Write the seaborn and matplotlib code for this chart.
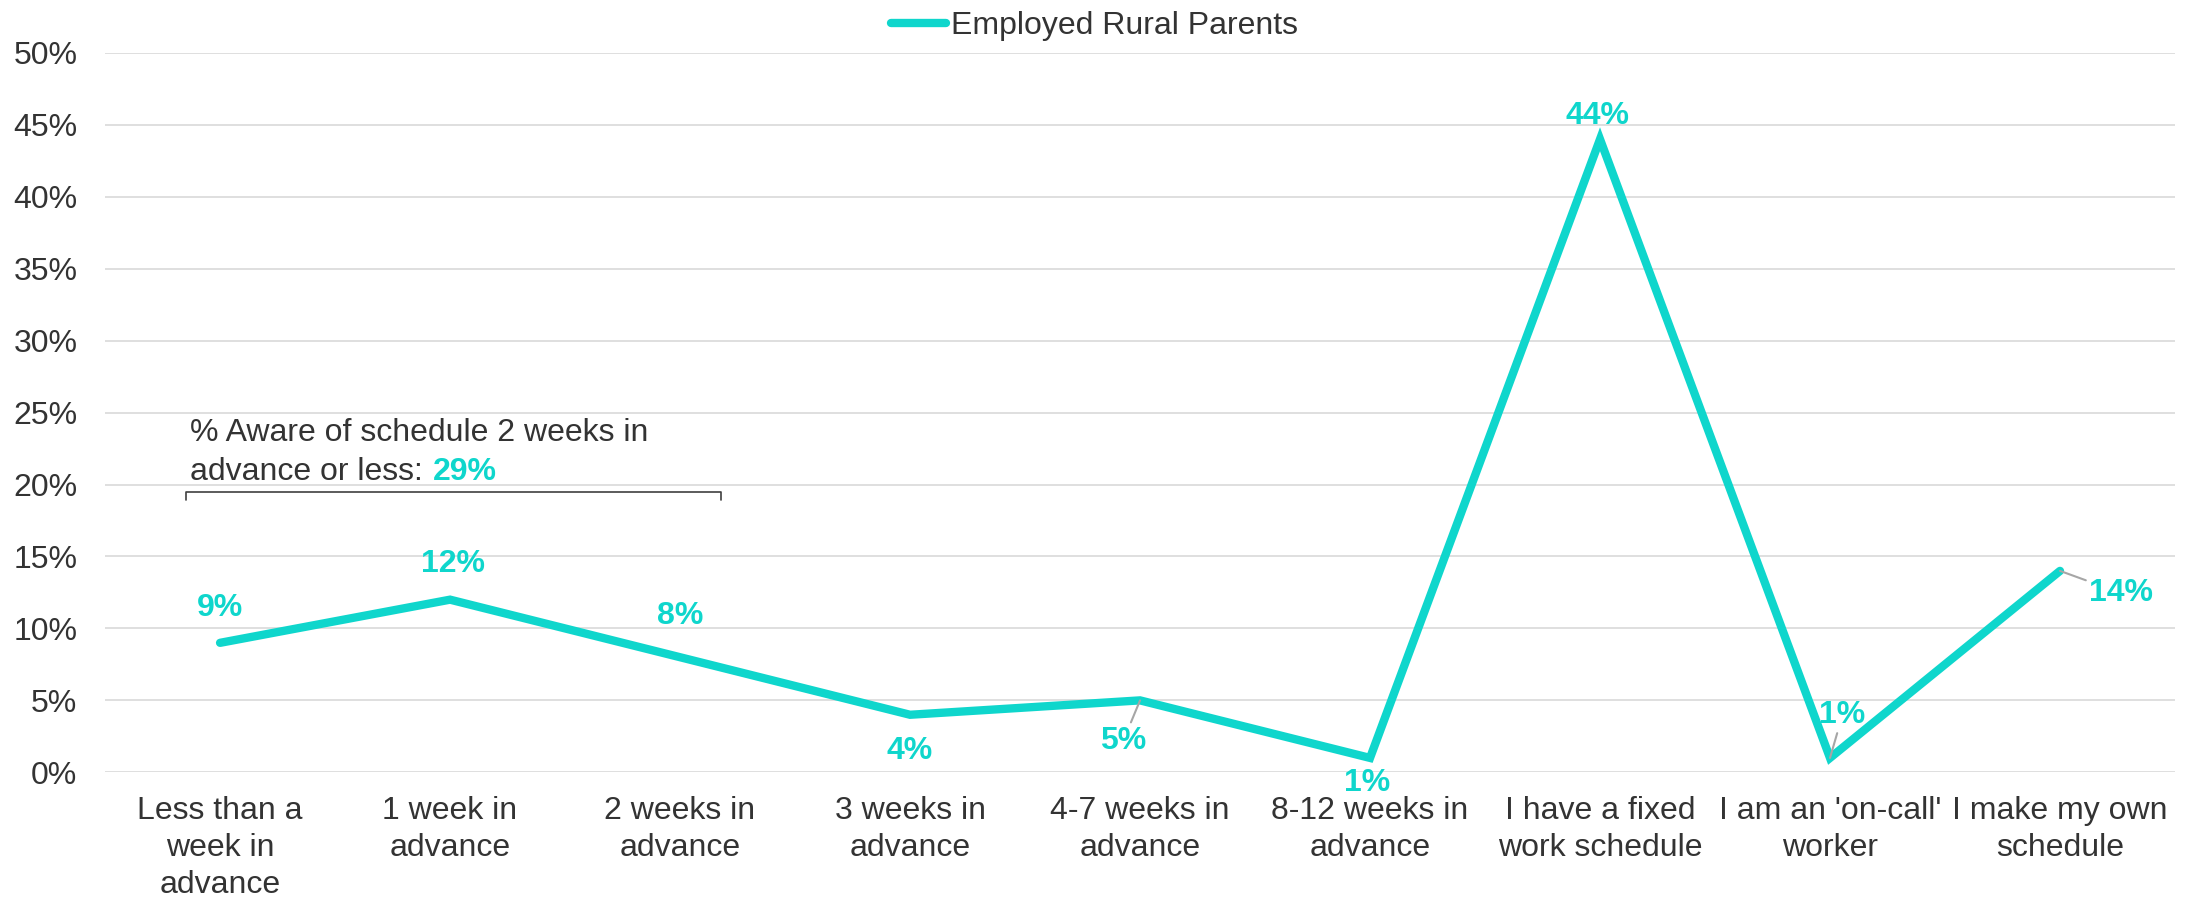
import matplotlib
matplotlib.use("Agg")
import matplotlib.pyplot as plt
from matplotlib.ticker import PercentFormatter
import seaborn as sns
import pandas as pd

categories = ["Less than a\nweek in\nadvance", "1 week in\nadvance", "2 weeks in\nadvance",
              "3 weeks in\nadvance", "4-7 weeks in\nadvance", "8-12 weeks in\nadvance",
              "I have a fixed\nwork schedule", "I am an 'on-call'\nworker", "I make my own\nschedule"]
employed_rural = [9, 12, 8, 4, 5, 1, 44, 1, 14]
series_name = "Employed Rural Parents"
bracket_total = 29

# label offsets in points (dx, dy), and whether a leader line is drawn
label_offsets = [(0, 25), (2, 26), (0, 30), (0, -26), (-12, -29), (-2, -18), (-2, 17), (9, 31), (44, -16)]
leaders = [False, False, False, False, True, False, False, True, True]

teal = "#0fd6cc"
dark = "#333333"

sns.set_theme(style="white")
plt.rcParams['font.family'] = ['Liberation Sans', 'DejaVu Sans']

df = pd.DataFrame({"category": categories, "pct": employed_rural})

fig = plt.figure(figsize=(21.89, 8.97), dpi=100)
ax = fig.add_axes([0.048, 0.139, 0.9456, 0.802])

sns.lineplot(data=df, x="category", y="pct", sort=False, color=teal, linewidth=6,
             ax=ax, label=series_name, solid_joinstyle="miter", solid_capstyle="round")

ax.set_ylim(0, 50)
ax.set_xlim(-0.5, len(categories) - 0.5)
ax.set_yticks(range(0, 51, 5))
ax.yaxis.set_major_formatter(PercentFormatter(decimals=0))
ax.yaxis.grid(True, color="#d9d9d9", linewidth=1.2)
ax.set_axisbelow(True)
for s in ax.spines.values():
    s.set_visible(False)
ax.set_xlabel("")
ax.set_ylabel("")
ax.tick_params(axis="both", labelsize=23, labelcolor=dark, length=0)
ax.tick_params(axis="y", pad=20)
ax.tick_params(axis="x", pad=17)
for t in ax.get_xticklabels():
    t.set_linespacing(1.3)

for i, v in enumerate(employed_rural):
    dx, dy = label_offsets[i]
    arrow = dict(arrowstyle="-", color="#a6a6a6", lw=1.5, shrinkA=0, shrinkB=0) if leaders[i] else None
    ax.annotate(f"{v}%", xy=(i, v), xytext=(dx, dy), textcoords="offset points",
                ha="center", va="center", fontsize=23, fontweight="bold", color=teal,
                arrowprops=arrow, clip_on=False, zorder=5)

# bracket for the first three categories
bx0, bx1, by, btick = -0.15, 2.18, 19.5, 18.9
ax.plot([bx0, bx0, bx1, bx1], [btick, by, by, btick], color="#404040", lw=1.2)
ax.text(bx0 + 0.02, 23.6, "% Aware of schedule 2 weeks in",
        fontsize=23, color=dark, ha="left", va="center")
line2 = ax.text(bx0 + 0.02, 20.9, "advance or less:",
                fontsize=23, color=dark, ha="left", va="center")
ax.annotate(f"{bracket_total}%", xy=(1, 0), xycoords=line2, xytext=(7, 0),
            textcoords="offset points", ha="left", va="bottom",
            fontsize=23, fontweight="bold", color=teal)

ax.legend_.remove()
handles, labels = ax.get_legend_handles_labels()
fig.legend(handles, labels, loc="upper center", bbox_to_anchor=(0.5, 1.02), frameon=False,
           fontsize=23, handlelength=1.7, handletextpad=0.15, labelcolor=dark)

fig.savefig("out.png", dpi=100, facecolor="white")
